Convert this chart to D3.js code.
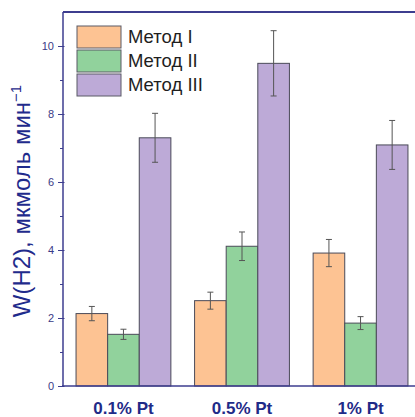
<!DOCTYPE html>
<html>
<head>
<meta charset="utf-8">
<script src="https://cdn.jsdelivr.net/npm/d3@7"></script>
<style>
  html, body { margin: 0; padding: 0; background: #fff; }
  svg { display: block; }
</style>
</head>
<body>
<svg id="chart" width="415" height="417"></svg>
<script>
const categories = ["0.1% Pt", "0.5% Pt", "1% Pt"];
const methods = ["Метод I", "Метод II", "Метод III"];
const method1 = [2.13, 2.51, 3.91];
const method2 = [1.52, 4.11, 1.85];
const method3 = [7.30, 9.49, 7.09];
const err1 = [0.21, 0.25, 0.40];
const err2 = [0.15, 0.42, 0.19];
const err3 = [0.72, 0.96, 0.72];
const majorTicks = [0, 2, 4, 6, 8, 10];
const minorTicks = [1, 3, 5, 7, 9];
const colors = ["#fdc393", "#91d29c", "#bdaad7"];

const values = [method1, method2, method3];
const errors = [err1, err2, err3];

const svg = d3.select("#chart");
const axisColor = "#3d3d8f";

const x = d3.scaleBand().domain(categories).range([63, 421]).paddingInner(0.2).paddingOuter(0.11);
const xi = d3.scaleBand().domain(methods).range([0, x.bandwidth()]).padding(0);
const y = d3.scaleLinear().domain([0, 11]).range([386, 12]);

// bars
const rows = [];
categories.forEach((c, ci) => {
  methods.forEach((m, mi) => {
    rows.push({c, m, mi, v: values[mi][ci], e: errors[mi][ci]});
  });
});

svg.append("g").selectAll("rect").data(rows).join("rect")
  .attr("x", d => x(d.c) + xi(d.m))
  .attr("y", d => y(d.v))
  .attr("width", xi.bandwidth())
  .attr("height", d => y(0) - y(d.v))
  .attr("fill", d => colors[d.mi])
  .attr("stroke", "#4a4a58")
  .attr("stroke-width", 1);

// error bars
const eg = svg.append("g").attr("stroke", "#555").attr("stroke-width", 1);
rows.forEach(d => {
  const cx = x(d.c) + xi(d.m) + xi.bandwidth() / 2;
  eg.append("line").attr("x1", cx).attr("x2", cx).attr("y1", y(d.v + d.e)).attr("y2", y(d.v - d.e));
  eg.append("line").attr("x1", cx - 3).attr("x2", cx + 3).attr("y1", y(d.v + d.e)).attr("y2", y(d.v + d.e));
  eg.append("line").attr("x1", cx - 3).attr("x2", cx + 3).attr("y1", y(d.v - d.e)).attr("y2", y(d.v - d.e));
});

// top frame line
svg.append("line").attr("x1", 63).attr("x2", 415).attr("y1", y(11)).attr("y2", y(11))
  .attr("stroke", axisColor).attr("stroke-width", 2);

// y axis
const yAxis = svg.append("g").attr("transform", "translate(63,0)")
  .call(d3.axisLeft(y).tickValues(majorTicks).tickSize(5).tickPadding(4).tickFormat(d3.format("d")));
yAxis.select(".domain").attr("stroke", axisColor).attr("stroke-width", 1.5).attr("d", `M0,${y(11)}V${y(0)}`);
yAxis.selectAll(".tick line").attr("stroke", axisColor).attr("x2", -5).attr("x1", 1.5);
yAxis.selectAll(".tick text").attr("fill", "#3a3a86").attr("font-family", "Liberation Sans, Arial, sans-serif").attr("font-size", 11);

const yMinor = svg.append("g").attr("transform", "translate(63,0)")
  .call(d3.axisLeft(y).tickValues(minorTicks).tickSize(3).tickFormat(""));
yMinor.select(".domain").remove();
yMinor.selectAll(".tick line").attr("stroke", axisColor);

// x axis
const xAxis = svg.append("g").attr("transform", `translate(0,${y(0)})`)
  .call(d3.axisBottom(x).tickSize(0).tickPadding(16));
xAxis.select(".domain").attr("stroke", axisColor).attr("stroke-width", 1.5).attr("d", `M62,0H415`);
xAxis.selectAll(".tick text")
  .attr("fill", "#1f2b88")
  .attr("font-family", "Liberation Sans, Arial, sans-serif")
  .attr("font-size", 17)
  .attr("font-weight", "bold");

// y title
const yt = svg.append("text")
  .attr("transform", `translate(30,${(84 + 318) / 2}) rotate(-90)`)
  .attr("text-anchor", "middle")
  .attr("fill", "#1f2b8c")
  .attr("font-family", "Liberation Sans, Arial, sans-serif")
  .attr("font-size", 24);
yt.append("tspan").text("W(H2), мкмоль мин");
yt.append("tspan").attr("font-size", 15).attr("dy", -9).text("−1");

// legend
const lg = svg.append("g");
methods.forEach((m, i) => {
  const ly = 26 + i * 24;
  lg.append("rect").attr("x", 77).attr("y", ly).attr("width", 44).attr("height", 22)
    .attr("fill", colors[i]).attr("stroke", "#5a5a66").attr("stroke-width", 1);
  lg.append("text").attr("x", 128).attr("y", ly + 11).attr("dy", "0.35em")
    .attr("fill", "#1e1e1e").attr("font-family", "Liberation Sans, Arial, sans-serif")
    .attr("font-size", 18.5).text(m);
});
</script>
</body>
</html>
